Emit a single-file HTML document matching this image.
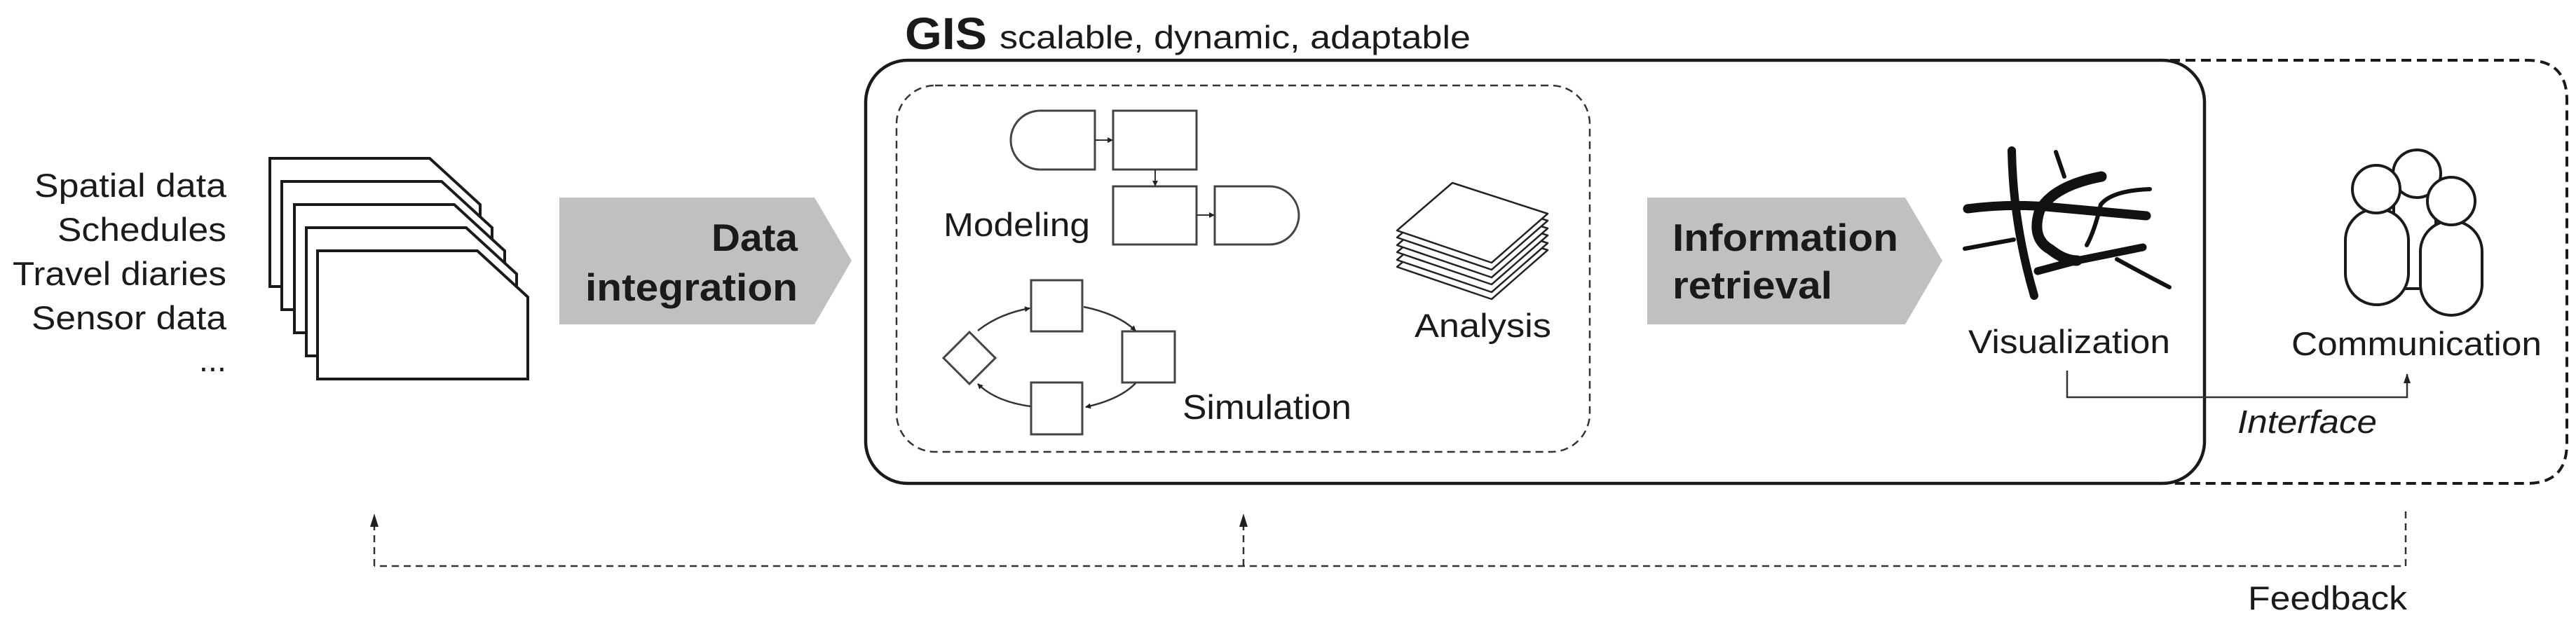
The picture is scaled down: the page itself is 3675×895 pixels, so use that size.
<!DOCTYPE html>
<html><head><meta charset="utf-8"><style>
html,body{margin:0;padding:0;background:#fff;}
svg{display:block;}
text{font-family:"Liberation Sans",Arial,sans-serif;fill:#1a1a1a;}
</style></head><body>
<svg width="3675" height="895" viewBox="0 0 3675 895" xmlns="http://www.w3.org/2000/svg">
<defs>
<marker id="ah" markerWidth="8" markerHeight="8" refX="7" refY="4" orient="auto" markerUnits="userSpaceOnUse" viewBox="0 0 8 8">
<path d="M0,0 L8,4 L0,8 z" fill="#222"/></marker>
<marker id="ahb" markerWidth="14" markerHeight="14" refX="13" refY="7" orient="auto" markerUnits="userSpaceOnUse" viewBox="0 0 14 14">
<path d="M0,2 L14,7 L0,12 z" fill="#222"/></marker>
</defs>

<!-- left labels -->
<g font-size="47" text-anchor="end">
<text x="323" y="281" textLength="274" lengthAdjust="spacingAndGlyphs">Spatial data</text>
<text x="323" y="344" textLength="241" lengthAdjust="spacingAndGlyphs">Schedules</text>
<text x="323" y="407" textLength="305" lengthAdjust="spacingAndGlyphs">Travel diaries</text>
<text x="323" y="470" textLength="278" lengthAdjust="spacingAndGlyphs">Sensor data</text>
<text x="323" y="530">...</text>
</g>

<!-- document stack -->
<g fill="#fff" stroke="#1a1a1a" stroke-width="4" stroke-linejoin="miter">
<path d="M385,226 h228 l72,66 v117 h-300 z"/>
<path d="M402,259 h228 l72,66 v117 h-300 z"/>
<path d="M420,292 h228 l72,66 v117 h-300 z"/>
<path d="M437,325 h228 l72,66 v117 h-300 z"/>
<path d="M453,358 h228 l72,66 v117 h-300 z"/>
</g>

<!-- Data integration arrow -->
<polygon points="798,282 1162,282 1215,372 1162,463 798,463" fill="#c0c0c0"/>
<g font-size="55" font-weight="bold" text-anchor="end">
<text x="1138" y="358" textLength="123" lengthAdjust="spacingAndGlyphs">Data</text>
<text x="1138" y="429" textLength="303" lengthAdjust="spacingAndGlyphs">integration</text>
</g>

<!-- GIS title -->
<text x="1291" y="70" font-size="64" font-weight="bold" textLength="117" lengthAdjust="spacingAndGlyphs">GIS</text>
<text x="1426" y="69" font-size="46" textLength="672" lengthAdjust="spacingAndGlyphs">scalable, dynamic, adaptable</text>

<!-- outer dashed right box -->
<path d="M3096,86 H3605 Q3662,86 3662,143 V633 Q3662,690 3605,690 H3096" fill="none" stroke="#1a1a1a" stroke-width="4" stroke-dasharray="14,8"/>
<!-- GIS box -->
<rect x="1235" y="86" width="1910" height="604" rx="60" ry="60" fill="none" stroke="#1a1a1a" stroke-width="4.5"/>

<!-- inner dashed box -->
<rect x="1279" y="122" width="989" height="523" rx="55" ry="55" fill="none" stroke="#333" stroke-width="2.5" stroke-dasharray="11,7"/>

<!-- modeling flowchart -->
<g fill="#fff" stroke="#444" stroke-width="3">
<path d="M1562,158 V242 H1484 A42,42 0 0 1 1442,200 A42,42 0 0 1 1484,158 Z"/>
<rect x="1588" y="158" width="119" height="84"/>
<rect x="1588" y="266" width="119" height="83"/>
<path d="M1733,266 V349 H1811 A42,42 0 0 0 1853,307 A42,42 0 0 0 1811,266 Z"/>
</g>
<g stroke="#333" stroke-width="2" fill="none">
<line x1="1562" y1="200" x2="1587" y2="200" marker-end="url(#ah)"/>
<line x1="1648" y1="242" x2="1648" y2="265" marker-end="url(#ah)"/>
<line x1="1707" y1="307" x2="1732" y2="307" marker-end="url(#ah)"/>
</g>
<text x="1346" y="337" font-size="47" textLength="209" lengthAdjust="spacingAndGlyphs">Modeling</text>

<!-- simulation -->
<g fill="#fff" stroke="#444" stroke-width="3">
<rect x="1471" y="400" width="73" height="73"/>
<rect x="1601" y="473" width="75" height="73"/>
<rect x="1471" y="546" width="73" height="74"/>
<polygon points="1383,474 1420,511 1383,548 1346,511"/>
</g>
<g stroke="#333" stroke-width="2.5" fill="none">
<path d="M1395,472 Q1425,448 1469,440" marker-end="url(#ah)"/>
<path d="M1546,438 Q1595,448 1620,472" marker-end="url(#ah)"/>
<path d="M1620,547 Q1598,570 1549,581" marker-end="url(#ah)"/>
<path d="M1470,580 Q1420,573 1395,548" marker-end="url(#ah)"/>
</g>
<text x="1687" y="598" font-size="49" textLength="241" lengthAdjust="spacingAndGlyphs">Simulation</text>

<!-- analysis stack -->
<g fill="#fff" stroke="#222" stroke-width="2.5" stroke-linejoin="round">
<polygon points="2072,313 2208,357 2128,427 1993,381"/>
<polygon points="2072,303 2208,347 2128,417 1993,371"/>
<polygon points="2072,292 2208,336 2128,406 1993,360"/>
<polygon points="2072,282 2208,326 2128,396 1993,350"/>
<polygon points="2072,271 2208,315 2128,385 1993,339"/>
<polygon points="2072,261 2208,305 2128,375 1993,329"/>
</g>
<text x="2018" y="481" font-size="47" textLength="195" lengthAdjust="spacingAndGlyphs">Analysis</text>

<!-- Information retrieval arrow -->
<polygon points="2350,282 2718,282 2771,372 2718,463 2350,463" fill="#c0c0c0"/>
<g font-size="55" font-weight="bold">
<text x="2386" y="358" textLength="322" lengthAdjust="spacingAndGlyphs">Information</text>
<text x="2386" y="426" textLength="228" lengthAdjust="spacingAndGlyphs">retrieval</text>
</g>

<!-- visualization icon -->
<g fill="none" stroke="#111" stroke-linecap="round">
<path d="M2870,215 Q2872,320 2902,422" stroke-width="12"/>
<path d="M2933,217 L2945,252" stroke-width="6"/>
<path d="M2998,252 Q2930,265 2910,300 Q2897,340 2925,356 Q2945,372 2963,372" stroke-width="15"/>
<path d="M2907,387 L2963,372 L3057,353" stroke-width="11"/>
<path d="M2807,298 Q2870,290 2930,296 L3062,308" stroke-width="13"/>
<path d="M3067,270 Q3013,272 2997,292 Q2988,330 2977,350" stroke-width="6"/>
<path d="M2803,355 L2873,342" stroke-width="6"/>
<path d="M3020,370 Q3060,392 3095,410" stroke-width="6"/>
</g>
<text x="2808" y="504" font-size="47" textLength="288" lengthAdjust="spacingAndGlyphs">Visualization</text>

<!-- communication icon -->
<g fill="#fff" stroke="#1a1a1a" stroke-width="4">
<rect x="3415" y="270" width="60" height="142"/>
<circle cx="3448" cy="248" r="34"/>
<rect x="3346" y="298" width="90" height="137" rx="45"/>
<circle cx="3390" cy="270" r="34"/>
<rect x="3453" y="315" width="88" height="135" rx="44"/>
<circle cx="3497" cy="287" r="34"/>
</g>
<text x="3269" y="507" font-size="47" textLength="357" lengthAdjust="spacingAndGlyphs">Communication</text>

<!-- interface connector -->
<path d="M2949,529 V567 H3434 V534" fill="none" stroke="#333" stroke-width="2.5" marker-end="url(#ahb)"/>
<text x="3192" y="618" font-size="46" font-style="italic" textLength="199" lengthAdjust="spacingAndGlyphs">Interface</text>

<!-- feedback -->
<g fill="none" stroke="#333" stroke-width="2.5" stroke-dasharray="10,7">
<path d="M3432,730 V808 H534"/>
<line x1="534" y1="808" x2="534" y2="740"/>
<line x1="1774" y1="808" x2="1774" y2="740"/>
</g>
<g fill="#222">
<path d="M528,752 L534,733 L540,752 z"/>
<path d="M1768,752 L1774,733 L1780,752 z"/>
</g>
<text x="3207" y="870" font-size="47" textLength="227" lengthAdjust="spacingAndGlyphs">Feedback</text>
</svg>
</body></html>
